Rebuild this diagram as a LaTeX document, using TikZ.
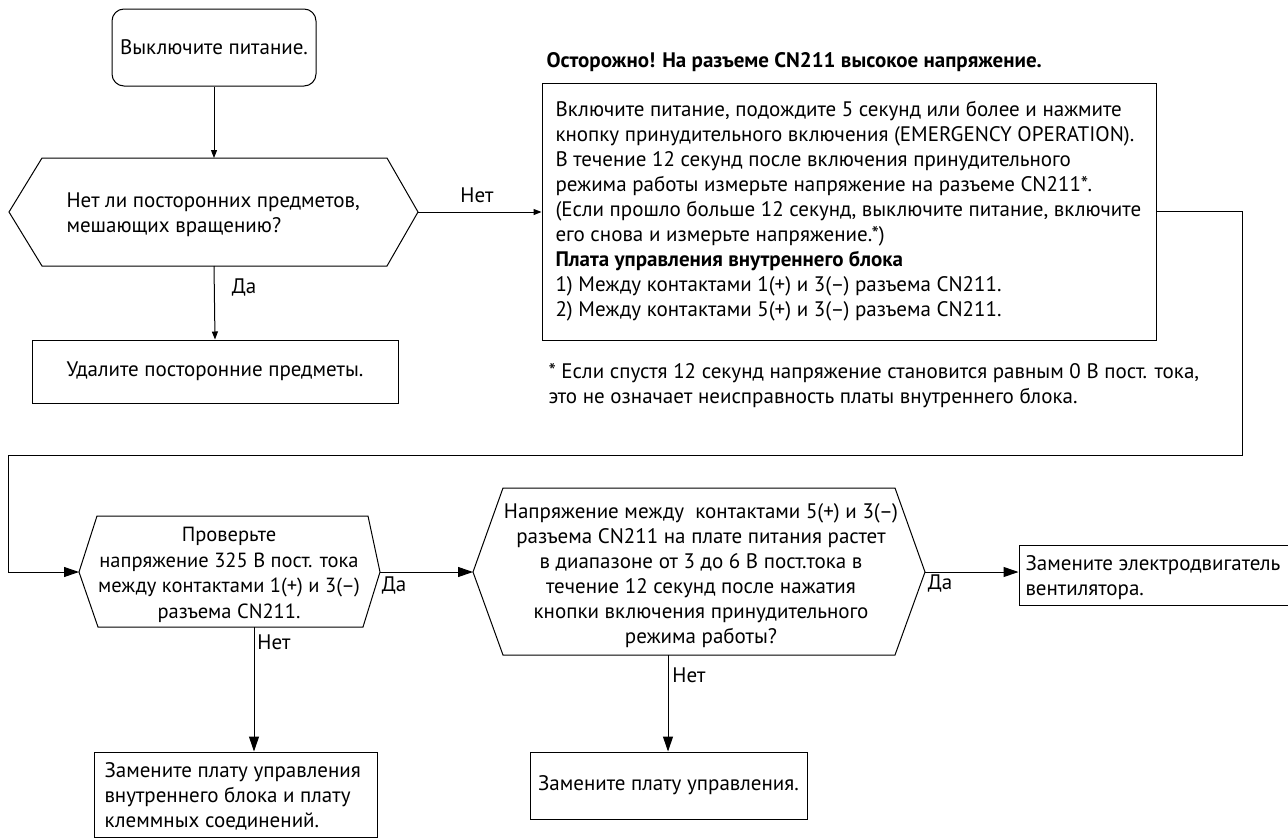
\documentclass[tikz,border=0pt]{standalone}
\usepackage{fontspec}
\setmainfont{PT Sans}
\usetikzlibrary{arrows.meta}
\begin{document}
\begin{tikzpicture}[x=1pt,y=-1pt,
  line width=1pt,
  txt/.style={font=\fontsize{21}{25}\selectfont, inner sep=0pt},
  boldtxt/.style={font=\fontsize{21}{25}\selectfont\bfseries, inner sep=0pt},
  box/.style={draw, inner sep=0pt, font=\fontsize{21}{25}\selectfont},
  shapeline/.style={draw},
  sarr/.style={-{Triangle[length=8pt,width=6pt]}},
  barr/.style={-{Triangle[length=15pt,width=10pt]}},
  lbl/.style={font=\fontsize{21}{25}\selectfont, inner sep=0pt}
]
\useasboundingbox (0,0) rectangle (1288,838);
\fill[white] (0,0) rectangle (1288,838);

% start
\node[box, rounded corners=12pt, minimum width=204pt, minimum height=77pt] (start) at (214,47.5) {Выключите питание.};

% hexagon 1
\draw[shapeline] (9,212) -- (42,158) -- (387,158) -- (418,212) -- (387,266) -- (42,266) -- cycle;
\coordinate (h1n) at (214,158);
\coordinate (h1s) at (214,266);
\coordinate (h1e) at (418,212);
\node[txt, anchor=west, align=left] (q1) at (66,215) {Нет ли посторонних предметов,\\мешающих вращению?};

% remove box
\node[box, minimum width=366pt, minimum height=63pt] (rm) at (215,371.5) {Удалите посторонние предметы.};

% warning and right box
\node[boldtxt, anchor=base west] (warn) at (546,67) {Осторожно! На разъеме CN211 высокое напряжение.};
\node[box, minimum width=614pt, minimum height=257pt] (rbox) at (849,211.5) {};
\node[txt, anchor=north west, align=left] (rtxt) at (555,101) {Включите питание, подождите 5 секунд или более и нажмите\\
кнопку принудительного включения (EMERGENCY OPERATION).\\
В течение 12 секунд после включения принудительного\\
режима работы измерьте напряжение на разъеме CN211*.\\
(Если прошло больше 12 секунд, выключите питание, включите\\
его снова и измерьте напряжение.*)\\
\textbf{Плата управления внутреннего блока}\\
1) Между контактами 1(+) и 3(--) разъема CN211.\\
2) Между контактами 5(+) и 3(--) разъема CN211.};
\node[txt, anchor=north west, align=left] (foot) at (548,363) {* Если спустя 12 секунд напряжение становится равным 0 В пост. тока,\\
это не означает неисправность платы внутреннего блока.};

% hexagon 2
\draw[shapeline] (79,572) -- (97,516) -- (368,516) -- (380,572) -- (363,627) -- (98,627) -- cycle;
\coordinate (h2w) at (79,572);
\coordinate (h2e) at (380,572);
\coordinate (h2s) at (254,627);
\node[txt, align=center, font=\fontsize{20.5}{25.5}\selectfont] (q2) at (229,575) {Проверьте\\напряжение 325 В пост. тока\\между контактами 1(+) и 3(--)\\разъема CN211.};

% hexagon 3
\draw[shapeline] (473,572) -- (503,488) -- (895,488) -- (925,572) -- (895,655) -- (503,655) -- cycle;
\coordinate (h3w) at (473,572);
\coordinate (h3e) at (925,572);
\coordinate (h3s) at (668,655);
\node[txt, align=center] (q3) at (701,576) {Напряжение между \ контактами 5(+) и 3(--)\\разъема CN211 на плате питания растет\\в диапазоне от 3 до 6 В пост.тока в\\течение 12 секунд после нажатия\\кнопки включения принудительного\\режима работы?};

% bottom boxes
\node[box, minimum width=283pt, minimum height=85pt] (b2) at (235.5,794.5) {};
\node[txt, anchor=north west, align=left] (b2t) at (104,762) {Замените плату управления\\внутреннего блока и плату\\клеммных соединений.};
\node[box, minimum width=277pt, minimum height=67pt] (b3) at (668.5,785.5) {Замените плату управления.};
\node[box, minimum width=281pt, minimum height=60pt] (b4) at (1159.5,575) {};
\node[txt, anchor=north west, align=left] (b4t) at (1025,555) {Замените электродвигатель\\вентилятора.};

% connectors
\coordinate (c1) at (1242,455);
\coordinate (c2) at (8,455);
\draw[sarr] (start) -- (h1n);
\draw[sarr] (h1s) -- (rm.north);
\draw[sarr] (h1e) -- (rbox.west |- h1e);
\draw[barr] (rbox.east) -| (c1) -- (c2) |- (h2w);
\draw[barr] (h2e) -- (h3w);
\draw[barr] (h2s) -- (b2.north -| h2s);
\draw[barr] (h3s) -- (b3.north -| h3s);
\draw[barr] (h3e) -- (b4.west |- h3e);

% labels
\node[lbl] (l1) at (477,195) {Нет};
\node[lbl] (l2) at (244,287) {Да};
\node[lbl] (l3) at (394,585) {Да};
\node[lbl] (l4) at (274,642) {Нет};
\node[lbl] (l5) at (689,675) {Нет};
\node[lbl] (l6) at (940,583) {Да};
\end{tikzpicture}
\end{document}
